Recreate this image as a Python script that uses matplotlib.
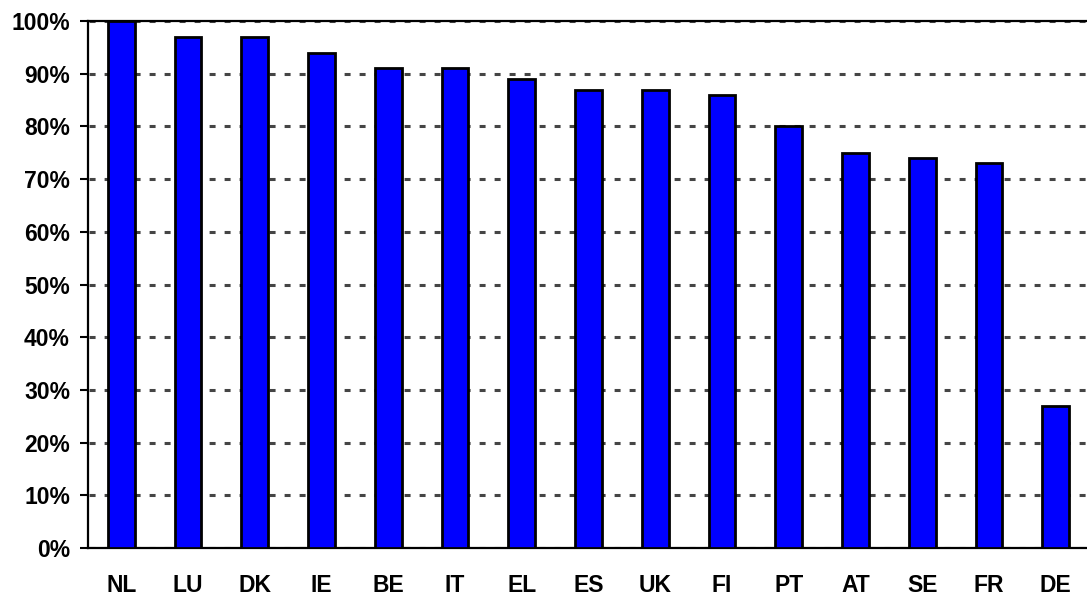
import numpy as np
import matplotlib.pyplot as plt
from matplotlib.ticker import PercentFormatter

countries = ["NL", "LU", "DK", "IE", "BE", "IT", "EL", "ES", "UK", "FI",
             "PT", "AT", "SE", "FR", "DE"]
shares = [100, 97, 97, 94, 91, 91, 89, 87, 87, 86, 80, 75, 74, 73, 27]
yticks = list(range(0, 101, 10))

plt.rcParams['font.family'] = ['Liberation Sans', 'DejaVu Sans']
plt.rcParams['font.weight'] = 'bold'
plt.rcParams['lines.scale_dashes'] = False

fig = plt.figure(figsize=(10.87, 5.97), dpi=100)
ax = fig.add_axes([88 / 1087, 1 - 548 / 597, 1001 / 1087, 527 / 597])

x = np.arange(len(countries))
ax.bar(x, shares, width=0.4, color='#0000FF', edgecolor='black',
       linewidth=2.0, zorder=3)

ax.set_xlim(-0.5, len(countries) - 0.5)
ax.set_ylim(0, 100)
ax.set_yticks(yticks)
ax.yaxis.set_major_formatter(PercentFormatter(decimals=0))
ax.set_xticks(x)
ax.set_xticklabels(countries)

ax.yaxis.grid(True, color='#454545', linewidth=2.2,
              linestyle=(10, (4.3, 6.5)), zorder=1)
ax.tick_params(axis='y', length=6, width=1.5, direction='out', pad=7,
               labelsize=16.5)
ax.tick_params(axis='x', length=0, pad=19, labelsize=16.5)
for lab in ax.get_xticklabels() + ax.get_yticklabels():
    lab.set_fontweight('bold')

for s in ['left', 'bottom', 'top', 'right']:
    ax.spines[s].set_linewidth(1.6)
ax.set_axisbelow(True)

fig.savefig('out.png', dpi=100)
